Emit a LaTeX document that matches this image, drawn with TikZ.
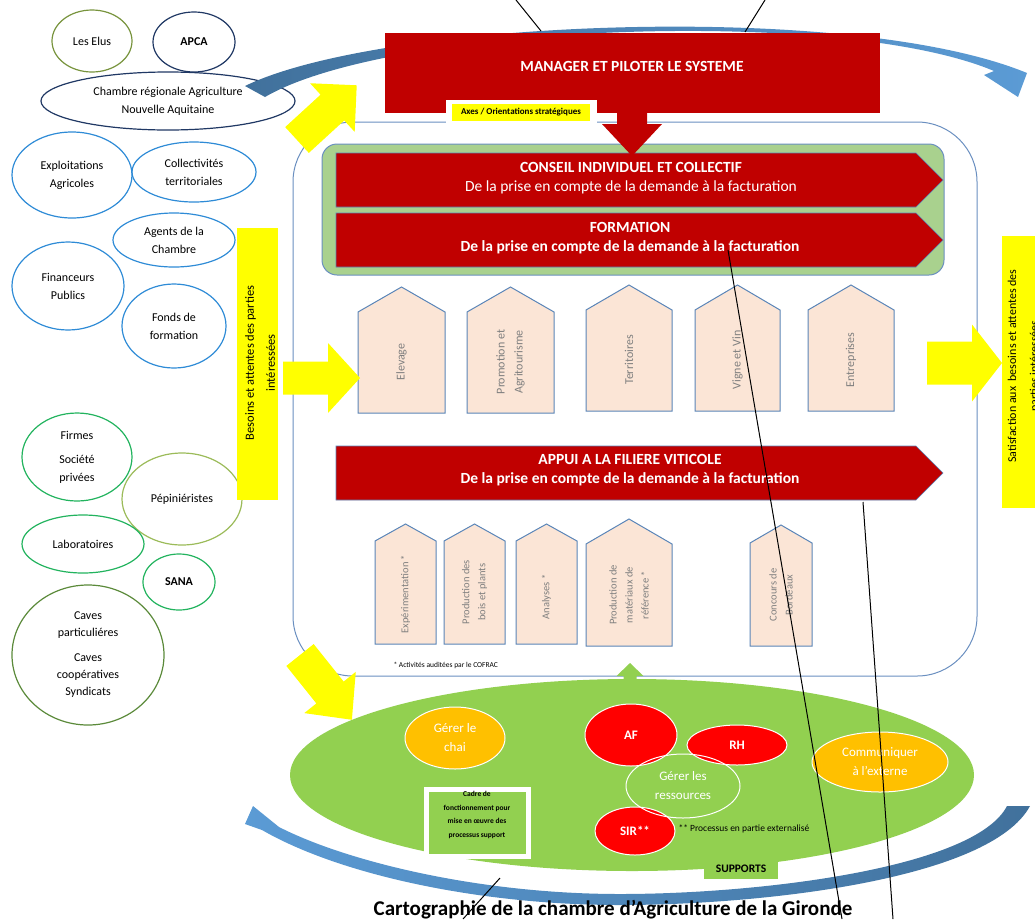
\documentclass[tikz,border=0pt]{standalone}
\usepackage{fontspec}
\setmainfont{Carlito}
\usetikzlibrary{shapes.geometric}

\definecolor{darkred}{HTML}{C00000}
\definecolor{brightred}{HTML}{FF0000}
\definecolor{amber}{HTML}{FFC000}
\definecolor{leaf}{HTML}{92D050}
\definecolor{palegreen}{HTML}{A9D18E}
\definecolor{peach}{HTML}{FBE5D6}
\definecolor{edgeblue}{HTML}{5A85B8}
\definecolor{framblue}{HTML}{6A8FC0}
\definecolor{arcdark}{HTML}{41719C}
\definecolor{arclight}{HTML}{5B9BD5}
\definecolor{elusgreen}{HTML}{77933C}
\definecolor{apcanavy}{HTML}{203864}
\definecolor{skyblue}{HTML}{2E8BD6}
\definecolor{jadegreen}{HTML}{22B35E}
\definecolor{limegreen}{HTML}{9BBB59}
\definecolor{mossgreen}{HTML}{5B8A3A}
\definecolor{greytext}{HTML}{7F7F7F}
\definecolor{canary}{HTML}{FFFF00}

% tail point, angle, length, head length, shaft width, head width, style
\newcommand{\blockarrow}[7]{%
    \begin{scope}[shift={#1}, rotate=#2]
        \fill[#7] (0,{-#5/2}) -- ({#3-#4},{-#5/2}) -- ({#3-#4},{-#6/2}) -- (#3,0)
            -- ({#3-#4},{#6/2}) -- ({#3-#4},{#5/2}) -- (0,{#5/2}) -- cycle;
    \end{scope}}

\begin{document}
\begin{tikzpicture}[x=1pt, y=-1pt,
            party/.style={ellipse, draw, line width=1.2pt, inner sep=0pt, align=center,
                font=\fontsize{12}{18}\selectfont},
            house/.style={fill=peach, draw=edgeblue, line width=1pt},
            housetext/.style={rotate=90, align=center, text=greytext,
                font=\fontsize{10.5}{16}\selectfont},
            redarrow/.style={fill=darkred, draw=edgeblue, line width=0.6pt},
            whitetext/.style={text=white, align=center},
            support/.style={ellipse, draw=white, line width=1pt, inner sep=0pt, align=center,
                text=white, font=\fontsize{13}{19}\selectfont},
            leader/.style={black, line width=1pt}
        ]
            \useasboundingbox (0,0) rectangle (1035,919);

            % parties interessees
            \node[party, draw=elusgreen, minimum width=80pt, minimum height=62pt] (elus) at (92,41) {Les Elus};
            \node[party, draw=apcanavy, minimum width=82pt, minimum height=60pt, font=\bfseries\fontsize{12}{18}\selectfont] (apca) at (194,42) {APCA};
            \node[party, draw=apcanavy, minimum width=254pt, minimum height=58pt] (chambre) at (168,101) {Chambre régionale Agriculture\\Nouvelle Aquitaine};
            \node[party, draw=skyblue, minimum width=120pt, minimum height=86pt] (exploit) at (72,175) {Exploitations\\Agricoles};
            \node[party, draw=skyblue, minimum width=124pt, minimum height=60pt] (collect) at (194,172) {Collectivités\\territoriales};
            \node[party, draw=skyblue, minimum width=122pt, minimum height=54pt] (agents) at (174,240) {Agents de la\\Chambre};
            \node[party, draw=skyblue, minimum width=112pt, minimum height=88pt] (financeurs) at (68,286) {Financeurs\\Publics};
            \node[party, draw=skyblue, minimum width=104pt, minimum height=84pt] (fonds) at (174,326) {Fonds de\\formation};
            \node[party, draw=jadegreen, minimum width=110pt, minimum height=88pt] (firmes) at (77,457) {Firmes\\[6pt]Société\\privées};
            \node[party, draw=limegreen, minimum width=120pt, minimum height=92pt] (pepin) at (182,499) {Pépiniéristes};
            \node[party, draw=jadegreen, minimum width=122pt, minimum height=58pt] (labo) at (83,544) {Laboratoires};
            \node[party, draw=jadegreen, minimum width=72pt, minimum height=56pt, font=\bfseries\fontsize{12}{18}\selectfont] (sana) at (179,582) {SANA};
            \node[party, draw=mossgreen, minimum width=152pt, minimum height=140pt, font=\fontsize{12}{17}\selectfont] (caves) at (88,655) {Caves\\particuliéres\\[8pt]Caves\\coopératives\\Syndicats};

            % top arc - behind the manager box
            \shade[left color=arcdark, right color=arclight] (245,86) .. controls (380,20) and (850,0) .. (1027,73)
                -- (1018,97) -- (984,75) -- (994,71) .. controls (840,6) and (390,24) .. (265,97) -- cycle;

            \fill[darkred] (385,33) rectangle (880,113);
            \node[whitetext, font=\bfseries\fontsize{15.5}{18}\selectfont] (manager) at (632,66) {MANAGER ET PILOTER LE SYSTEME};

            % frame of the processes
            \draw[framblue, line width=1pt, rounded corners=60pt] (293,122) rectangle (977,676);

            \fill[white] (446,100) rectangle (597,126);
            \fill[canary] (452,104) rectangle (590,121);
            \node[font=\bfseries\fontsize{9}{10}\selectfont] (axes) at (521,112.5) {Axes / Orientations stratégiques};

            \draw[framblue, fill=palegreen, line width=1pt, rounded corners=15pt] (322,144) rectangle (944,275);
            \fill[redarrow] (336,153) -- (916,153) -- (943,180) -- (916,207) -- (336,207) -- cycle;
            \fill[redarrow] (336,213) -- (916,213) -- (943,240) -- (916,267) -- (336,267) -- cycle;
            \node[whitetext, font=\fontsize{15.5}{19}\selectfont] (conseil) at (631,178) {\textbf{CONSEIL INDIVIDUEL ET COLLECTIF}\\De la prise en compte de la demande à la facturation};
            \node[whitetext, font=\bfseries\fontsize{15.5}{19}\selectfont] (formation) at (630,238) {FORMATION\\De la prise en compte de la demande à la facturation};

            \blockarrow{(632,113)}{-90}{43}{32}{30}{60}{darkred}

            % metiers
            \draw[house] (358,413) -- (358,312) -- (401.5,287) -- (445,312) -- (445,413) -- cycle;
            \draw[house] (467,413) -- (467,312) -- (510.5,287) -- (554,312) -- (554,413) -- cycle;
            \draw[house] (586,411) -- (586,310) -- (629,285) -- (672,310) -- (672,411) -- cycle;
            \draw[house] (695,411) -- (695,310) -- (737.5,285) -- (780,310) -- (780,411) -- cycle;
            \draw[house] (808,411) -- (808,310) -- (851,285) -- (894,310) -- (894,411) -- cycle;
            \node[housetext, font=\fontsize{12}{18}\selectfont] (elevage) at (401.5,362) {Elevage};
            \node[housetext, font=\fontsize{12}{18}\selectfont] (promotion) at (510.5,362) {Promotion et\\Agritourisme};
            \node[housetext, font=\fontsize{12}{18}\selectfont] (territoires) at (629,360) {Territoires};
            \node[housetext, font=\fontsize{12}{18}\selectfont] (vigne) at (737.5,360) {Vigne et Vin};
            \node[housetext, font=\fontsize{12}{18}\selectfont] (entreprises) at (851,360) {Entreprises};

            \fill[redarrow] (336,446) -- (916,446) -- (943,473) -- (916,500) -- (336,500) -- cycle;
            \node[whitetext, font=\bfseries\fontsize{15.5}{19}\selectfont] (appui) at (630,470) {APPUI A LA FILIERE VITICOLE\\De la prise en compte de la demande à la facturation};

            \draw[house] (375,644) -- (375,541) -- (405.5,524) -- (436,541) -- (436,644) -- cycle;
            \draw[house] (444,644) -- (444,541) -- (474.5,524) -- (505,541) -- (505,644) -- cycle;
            \draw[house] (516,644) -- (516,541) -- (546.5,524) -- (577,541) -- (577,644) -- cycle;
            \draw[house] (586,646) -- (586,544) -- (629,519) -- (672,544) -- (672,646) -- cycle;
            \draw[house] (750,646) -- (750,543) -- (781,525) -- (812,543) -- (812,646) -- cycle;
            \node[housetext] (experim) at (405.5,594) {Expérimentation *};
            \node[housetext] (bois) at (474.5,592) {Production des\\bois et plants};
            \node[housetext] (analyses) at (546.5,597) {Analyses *};
            \node[housetext] (materiaux) at (629,595) {Production de\\matériaux de\\référence *};
            \node[housetext] (concours) at (781,595) {Concours de\\Bordeaux};
            \node[anchor=west, font=\fontsize{7.5}{9}\selectfont] (cofrac) at (390,665) {* Activités auditées par le COFRAC};

            % entrees / sorties
            \fill[canary] (237,228) rectangle (278,500);
            \node[rotate=90, align=center, font=\fontsize{12.5}{21}\selectfont] (besoins) at (260,363) {Besoins et attentes des parties\\intéressées};
            \fill[canary] (1002,236) rectangle (1040,508);
            \node[rotate=90, align=center, font=\fontsize{12}{22}\selectfont] (satisf) at (1024,366) {Satisfaction aux\ \ besoins et attentes des\\parties intéressées};

            \blockarrow{(297,140)}{42.5}{81}{33}{35}{66}{canary}
            \blockarrow{(283,378)}{0}{77}{32}{33}{70}{canary}
            \blockarrow{(927,363)}{0}{75}{30}{43}{77}{canary}
            \blockarrow{(300,655)}{-51.3}{83}{35}{35}{66}{canary}

            % supports
            \fill[leaf] (632,775) ellipse [x radius=342pt, y radius=96pt];
            \blockarrow{(630,692)}{90}{29}{13}{13}{27}{leaf}
            \node[support, fill=amber, minimum width=100pt, minimum height=62pt] (chai) at (455,738) {Gérer le\\chai};
            \node[support, fill=brightred, minimum width=92pt, minimum height=62pt, font=\bfseries\fontsize{13}{19}\selectfont] (af) at (631,735) {AF};
            \node[support, fill=brightred, minimum width=100pt, minimum height=40pt, font=\bfseries\fontsize{13}{19}\selectfont] (rh) at (737,745) {RH};
            \node[support, fill=brightred, minimum width=80pt, minimum height=48pt, font=\bfseries\fontsize{13}{19}\selectfont] (sir) at (635,831) {SIR**};
            \node[support, minimum width=114pt, minimum height=64pt] (ressources) at (683,786) {Gérer les\\ressources};
            \node[support, fill=amber, minimum width=136pt, minimum height=60pt] (comm) at (880,762) {Communiquer\\à l’externe};
            \node[anchor=west, font=\fontsize{9.5}{11}\selectfont] (externe) at (675,829) {** Processus en partie externalisé};

            \draw[white, fill=leaf, line width=5pt] (426,789) rectangle (528,856);
            \node[align=center, font=\bfseries\fontsize{7.5}{13.5}\selectfont] (cadre) at (477,815) {Cadre de\\fonctionnement pour\\mise en œuvre des\\processus support};
            \fill[leaf] (704,860) rectangle (778,879);
            \node[font=\bfseries\fontsize{11.5}{13}\selectfont] (supports) at (741,869) {SUPPORTS};

            % bottom arc
            \shade[left color=arclight, right color=arcdark] (1030,806) .. controls (990,880) and (760,905) .. (620,905)
                .. controls (480,905) and (340,875) .. (262,830) -- (245,824) -- (253,806) -- (279,827) -- (283,829)
                .. controls (350,862) and (480,894) .. (620,894) .. controls (760,894) and (975,868) .. (1007,806) -- cycle;

            \node[anchor=base, font=\bfseries\fontsize{21}{24}\selectfont] (title) at (613,915) {Cartographie de la chambre d’Agriculture de la Gironde};

            % stray lines - on top of everything
            \draw[leader] (516,0) -- (541,31);
            \draw[leader] (765,0) -- (745,32);
            \draw[leader] (728,250) -- (842,919);
            \draw[leader] (863,502) -- (893,919);
            \draw[leader] (500,878) -- (463,919);
        \end{tikzpicture}
\end{document}
